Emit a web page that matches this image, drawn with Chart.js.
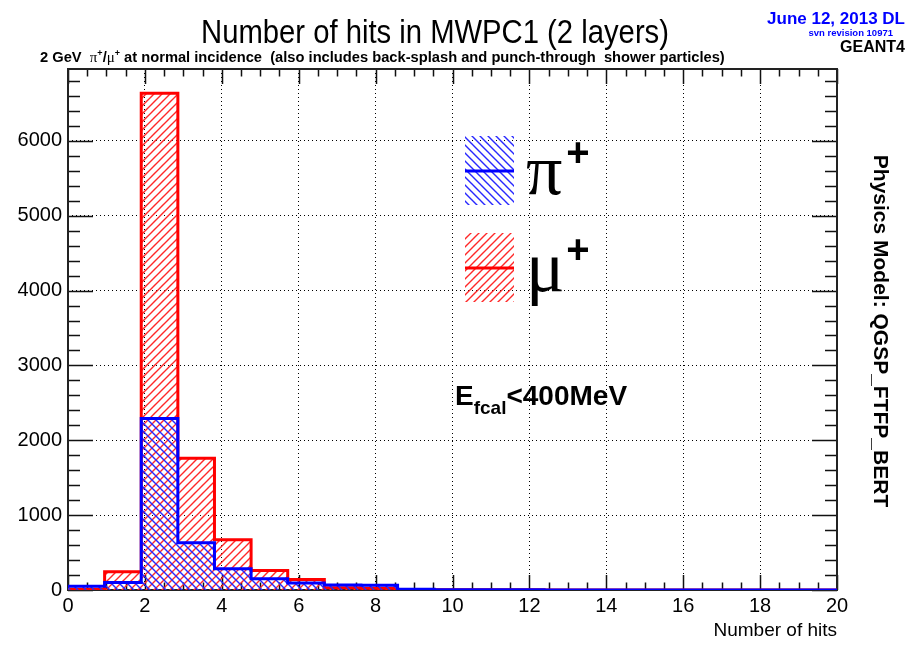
<!DOCTYPE html>
<html lang="en">
<head>
<meta charset="UTF-8">
<title>Number of hits in MWPC1 (2 layers)</title>
<script src="https://cdn.jsdelivr.net/npm/chart.js"></script>
<style>
  body { margin: 0; background: #fff; }
  #wrap { width: 924px; height: 649px; }
</style>
</head>
<body>
<div id="wrap"><canvas id="hitsChart" width="924" height="649"></canvas></div>
<script>
// histogram binning: 21 bins from 0 to 20 hits
const binCount = 21;
const hitsMin = 0;
const hitsMax = 20;

// entries per bin
const piCounts = [50, 100, 2290, 632, 285, 150, 95, 68, 62, 10, 2, 2, 2, 0, 0, 0, 0, 0, 0, 0, 0];
const muCounts = [10, 245, 6635, 1760, 672, 262, 140, 30, 25, 3, 5, 5, 4, 0, 0, 0, 0, 0, 0, 0, 0];
const seriesNames = ['π', 'μ'];

// axes
const xTickStep = 2;
const xMinorStep = 0.5;
const yTickValues = [0, 1000, 2000, 3000, 4000, 5000, 6000];
const yMinorStep = 200;
const yMax = 6960;

const SANS = '"Liberation Sans", Arial, sans-serif';
const SERIF = '"Liberation Serif", "Times New Roman", serif';

const canvas = document.getElementById('hitsChart');
const ctx = canvas.getContext('2d');

// 8px hatch tile with one diagonal stroke
function hatch(color, dir) {
    const c = document.createElement('canvas');
    c.width = 8; c.height = 8;
    const g = c.getContext('2d');
    g.strokeStyle = color;
    g.lineWidth = 1.4;
    g.beginPath();
    for (let k = -8; k <= 8; k += 8) {
        if (dir > 0) { g.moveTo(k - 1, 9); g.lineTo(k + 9, -1); }
        else { g.moveTo(k - 1, -1); g.lineTo(k + 9, 9); }
    }
    g.stroke();
    return ctx.createPattern(c, 'repeat');
}

const redPattern = hatch('rgb(255, 40, 40)', 1);
const bluePattern = hatch('rgb(40, 40, 255)', -1);

// step points: one per bin edge, last bin repeated at the upper edge
function histPoints(counts) {
    const w = (hitsMax - hitsMin) / binCount;
    const pts = counts.map((v, i) => ({ x: hitsMin + i * w, y: v }));
    pts.push({ x: hitsMax, y: counts[counts.length - 1] });
    return pts;
}

function drawText(str, x, y, font, color, align, sx) {
    ctx.save();
    ctx.font = font;
    ctx.fillStyle = color;
    ctx.textAlign = align || 'left';
    ctx.textBaseline = 'alphabetic';
    ctx.translate(x, y);
    ctx.scale(sx || 1, 1);
    ctx.fillText(str, 0, 0);
    ctx.restore();
}

// runs of [text, font, dy]
function drawRuns(runs, x, y, color) {
    ctx.save();
    ctx.fillStyle = color;
    ctx.textBaseline = 'alphabetic';
    ctx.textAlign = 'left';
    for (const [t, f, dy] of runs) {
        ctx.font = f;
        ctx.fillText(t, x, y + (dy || 0));
        x += ctx.measureText(t).width;
    }
    ctx.restore();
}

const decorations = {
    id: 'decorations',
    beforeDatasetsDraw(chart) {
        const { left, right, top, bottom } = chart.chartArea;
        const xs = chart.scales.x, ys = chart.scales.y;
        const c = chart.ctx;
        c.save();
        c.strokeStyle = '#111';
        c.lineWidth = 1.5;
        c.beginPath();
        for (let v = hitsMin; v <= hitsMax + 1e-9; v += xMinorStep) {
            const px = Math.round(xs.getPixelForValue(v)) + 0.5;
            const len = Math.abs(v % xTickStep) < 1e-9 ? 15 : 7.5;
            c.moveTo(px, bottom); c.lineTo(px, bottom - len);
            c.moveTo(px, top); c.lineTo(px, top + len);
        }
        for (let v = 0; v <= yMax; v += yMinorStep) {
            const py = Math.round(ys.getPixelForValue(v)) + 0.5;
            const len = yTickValues.includes(v) ? 25 : 12;
            c.moveTo(left, py); c.lineTo(left + len, py);
            c.moveTo(right, py); c.lineTo(right - len, py);
        }
        c.stroke();
        c.lineWidth = 2;
        c.strokeStyle = '#222';
        c.strokeRect(left, top, right - left, bottom - top);
        c.restore();
    },
    afterDraw(chart) {
        const { right, bottom } = chart.chartArea;

        // titles
        drawText('Number of hits in MWPC1 (2 layers)', 435, 43, '34px ' + SANS, '#000', 'center', 0.86);
        drawRuns([
            ['2 GeV  ', 'bold 14.7px ' + SANS],
            ['π', '15px ' + SERIF],
            ['+', 'bold 9px ' + SANS, -6],
            ['/', 'bold 14.7px ' + SANS],
            ['μ', '15px ' + SERIF],
            ['+', 'bold 9px ' + SANS, -6],
            [' at normal incidence  (also includes back-splash and punch-through  shower particles)', 'bold 14.7px ' + SANS]
        ], 40, 62, '#000');

        drawText('June 12, 2013 DL', 905, 24, 'bold 17px ' + SANS, '#0000ff', 'right');
        drawText('svn revision 10971', 893, 36, 'bold 9.5px ' + SANS, '#0000ff', 'right');
        drawText('GEANT4', 905, 52, 'bold 16px ' + SANS, '#000', 'right');

        ctx.save();
        ctx.translate(880, 331);
        ctx.rotate(Math.PI / 2);
        ctx.font = 'bold 21px ' + SANS;
        ctx.fillStyle = '#000';
        ctx.textAlign = 'center';
        ctx.textBaseline = 'middle';
        ctx.fillText('Physics Model: QGSP_FTFP_BERT', 0, 0);
        ctx.restore();

        drawText('Number of hits', right, bottom + 46, '19px ' + SANS, '#000', 'right');

        // energy cut label
        drawRuns([
            ['E', 'bold 28px ' + SANS],
            ['fcal', 'bold 19px ' + SANS, 9],
            ['<400MeV', 'bold 28px ' + SANS]
        ], 455, 405, '#000');

        // legend
        const entries = [
            { name: seriesNames[0], color: '#0000ff', pattern: bluePattern, y: 136 },
            { name: seriesNames[1], color: '#ff0000', pattern: redPattern, y: 233 }
        ];
        for (const e of entries) {
            ctx.save();
            ctx.fillStyle = e.pattern;
            ctx.fillRect(465, e.y, 49, 69);
            ctx.strokeStyle = e.color;
            ctx.lineWidth = 3;
            ctx.beginPath();
            ctx.moveTo(465, e.y + 35);
            ctx.lineTo(514, e.y + 35);
            ctx.stroke();
            ctx.restore();
            drawText(e.name, 526, e.y + 58, '72px ' + SERIF, '#000', 'left');
            drawText('+', 578, e.y + 30, 'bold 40px ' + SANS, '#000', 'center');
        }
    }
};

new Chart(ctx, {
    type: 'line',
    data: {
        datasets: [
            {
                label: seriesNames[0] + '+',
                data: histPoints(piCounts),
                stepped: 'before',
                borderColor: '#0000ff',
                borderWidth: 3,
                backgroundColor: bluePattern,
                fill: 'origin',
                pointRadius: 0
            },
            {
                label: seriesNames[1] + '+',
                data: histPoints(muCounts),
                stepped: 'before',
                borderColor: '#ff0000',
                borderWidth: 3,
                backgroundColor: redPattern,
                fill: 'origin',
                pointRadius: 0
            }
        ]
    },
    options: {
        responsive: false,
        animation: false,
        devicePixelRatio: 1,
        layout: { padding: { top: 69, right: 87, left: 0, bottom: 0 } },
        plugins: {
            legend: { display: false },
            tooltip: { enabled: false }
        },
        scales: {
            x: {
                type: 'linear',
                min: hitsMin,
                max: hitsMax,
                afterFit: (s) => { s.height = 59; },
                grid: { color: '#000', lineWidth: 1, drawTicks: false },
                border: { display: false, dash: [1, 3] },
                ticks: {
                    stepSize: xTickStep,
                    padding: 4,
                    color: '#000',
                    maxRotation: 0,
                    font: { family: SANS, size: 20 }
                }
            },
            y: {
                type: 'linear',
                min: 0,
                max: yMax,
                afterFit: (s) => { s.width = 68; },
                afterBuildTicks: (s) => { s.ticks = yTickValues.map(v => ({ value: v })); },
                grid: { color: '#000', lineWidth: 1, drawTicks: false },
                border: { display: false, dash: [1, 3] },
                ticks: {
                    padding: 6,
                    color: '#000',
                    callback: (v) => String(v),
                    font: { family: SANS, size: 20 }
                }
            }
        }
    },
    plugins: [decorations]
});
</script>
</body>
</html>
